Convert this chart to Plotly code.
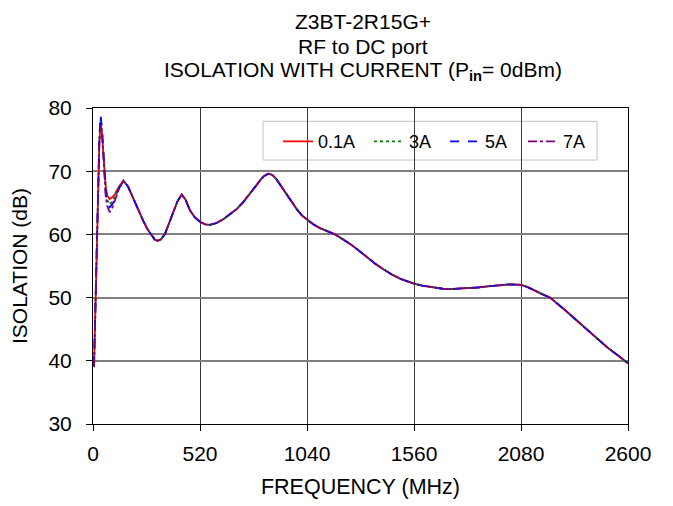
import plotly.graph_objects as go

# Frequencies (MHz)
freq_head = [5, 10, 18, 26, 31, 37, 44, 50, 56, 62, 70, 81, 95, 107, 125]
freq_tail = [148, 170, 197, 220, 245, 265, 285, 300, 314, 330, 350, 370, 391, 410, 431,
             450, 471, 495, 520, 545, 568, 600, 633, 665, 698, 730, 763, 790, 811, 830,
             852, 872, 892, 915, 941, 965, 990, 1015, 1040, 1070, 1103, 1140, 1176, 1210,
             1249, 1290, 1330, 1370, 1411, 1450, 1492, 1525, 1560, 1600, 1654, 1700, 1735,
             1780, 1816, 1870, 1929, 1980, 2026, 2060, 2080, 2110, 2140, 2180, 2221, 2260,
             2302, 2340, 2383, 2420, 2464, 2500, 2545, 2575, 2600]

# Isolation (dB) near the low-frequency resonance, per current
iso_01A_head = [39.2, 46.0, 58.0, 70.0, 74.5, 77.6, 76.0, 73.0, 69.8, 67.5, 66.1, 65.6, 65.9, 66.4, 67.5]
iso_3A_head = [39.0, 46.2, 58.3, 70.5, 75.2, 78.3, 76.4, 73.4, 69.5, 67.0, 65.4, 64.7, 65.3, 66.0, 67.3]
iso_5A_head = [39.3, 46.5, 58.5, 70.8, 75.6, 78.9, 76.6, 73.2, 69.2, 66.4, 64.9, 64.3, 64.8, 65.8, 67.2]
iso_7A_head = [39.0, 45.8, 57.8, 70.0, 74.8, 77.4, 75.6, 72.6, 68.8, 66.0, 64.4, 63.5, 64.3, 65.5, 67.1]

# Isolation (dB) above ~150 MHz (curves overlap)
iso_tail = [68.5, 67.6, 65.6, 63.8, 62.1, 60.8, 59.8, 59.2, 59.0, 59.2, 60.1, 61.7, 63.5, 65.2, 66.3,
            65.5, 63.8, 62.7, 62.0, 61.6, 61.5, 61.8, 62.4, 63.2, 64.0, 65.1, 66.4, 67.6, 68.5, 69.2,
            69.6, 69.4, 68.7, 67.6, 66.4, 65.1, 64.0, 63.0, 62.3, 61.6, 61.0, 60.5, 60.0, 59.3,
            58.5, 57.5, 56.4, 55.4, 54.5, 53.7, 53.0, 52.6, 52.2, 51.9, 51.6, 51.4, 51.35,
            51.4, 51.5, 51.6, 51.8, 52.0, 52.1, 52.05, 52.0, 51.7, 51.2, 50.6, 50.0, 49.0,
            47.8, 46.7, 45.5, 44.4, 43.1, 42.1, 41.0, 40.3, 39.6]

series_names = ["0.1A", "3A", "5A", "7A"]
series_heads = [iso_01A_head, iso_3A_head, iso_5A_head, iso_7A_head]
series_colors = ["#ff0000", "#008000", "#0000ff", "#800080"]
series_dash = ["solid", "dot", "dash", "dashdot"]
legend_ids = ["legend", "legend2", "legend3", "legend4"]
legend_x = [0.3458, 0.5159, 0.6579, 0.8037]   # paper x of each legend entry

title_lines = ["Z3BT-2R15G+", "RF to DC port",
               "ISOLATION WITH CURRENT (P<sub><b>in</b></sub>= 0dBm)"]
title_line_y = [1.2734, 1.1944, 1.1173]        # paper y of each title line

x_ticks = [0, 520, 1040, 1560, 2080, 2600]
y_ticks = [30, 40, 50, 60, 70, 80]

font_family = "Arial, Liberation Sans, Helvetica, sans-serif"

fig = go.Figure()
for name, head, color, dash, lg in zip(series_names, series_heads, series_colors, series_dash, legend_ids):
    fig.add_trace(go.Scatter(
        x=freq_head + freq_tail,
        y=head + iso_tail,
        mode="lines",
        name=name,
        legend=lg,
        showlegend=True,
        line=dict(color=color, width=1.8, dash=dash),
    ))

# legend frame
fig.add_shape(type="rect", xref="paper", yref="paper",
              x0=0.3178, x1=0.9421, y0=0.8353, y1=0.9577,
              line=dict(color="#c4c4c4", width=1), fillcolor="white", layer="between")

# title lines
for txt, ty in zip(title_lines, title_line_y):
    fig.add_annotation(text=txt, xref="paper", yref="paper", x=0.5047, y=ty,
                       xanchor="center", yanchor="middle", showarrow=False,
                       font=dict(size=21, family=font_family, color="black"))

legend_common = dict(orientation="h", xanchor="left", y=0.8934, yanchor="middle",
                     bgcolor="rgba(0,0,0,0)", borderwidth=0,
                     font=dict(size=18, family=font_family), itemwidth=30)
layout_legends = {}
for lg, lx in zip(legend_ids, legend_x):
    layout_legends[lg] = dict(legend_common, x=lx)

fig.update_layout(
    width=673, height=506,
    margin=dict(l=93, r=45, t=108, b=79),
    paper_bgcolor="white", plot_bgcolor="white",
    showlegend=True,
    font=dict(family=font_family, size=21, color="black"),
    xaxis=dict(
        range=[0, 2600], tickvals=x_ticks, ticktext=[str(v) for v in x_ticks],
        showgrid=True, gridcolor="#3a3a3a", gridwidth=1,
        showline=True, linecolor="black", linewidth=1, mirror=True,
        ticks="outside", ticklen=6, tickcolor="black", zeroline=False,
        ticklabelstandoff=5,
        tickfont=dict(size=21),
        title=dict(text="FREQUENCY (MHz)", standoff=14, font=dict(size=21.5)),
    ),
    yaxis=dict(
        range=[30, 80], tickvals=y_ticks,
        showgrid=True, gridcolor="#808080", gridwidth=1.5,
        showline=True, linecolor="black", linewidth=1, mirror=True,
        ticks="outside", ticklen=6, tickcolor="black", zeroline=False,
        ticklabelstandoff=10,
        tickfont=dict(size=21),
        title=dict(text="ISOLATION (dB)", standoff=15, font=dict(size=21)),
    ),
    **layout_legends,
)

fig.write_html("out.html", config={"displayModeBar": False},
               post_script="document.body.style.margin='0px';")
